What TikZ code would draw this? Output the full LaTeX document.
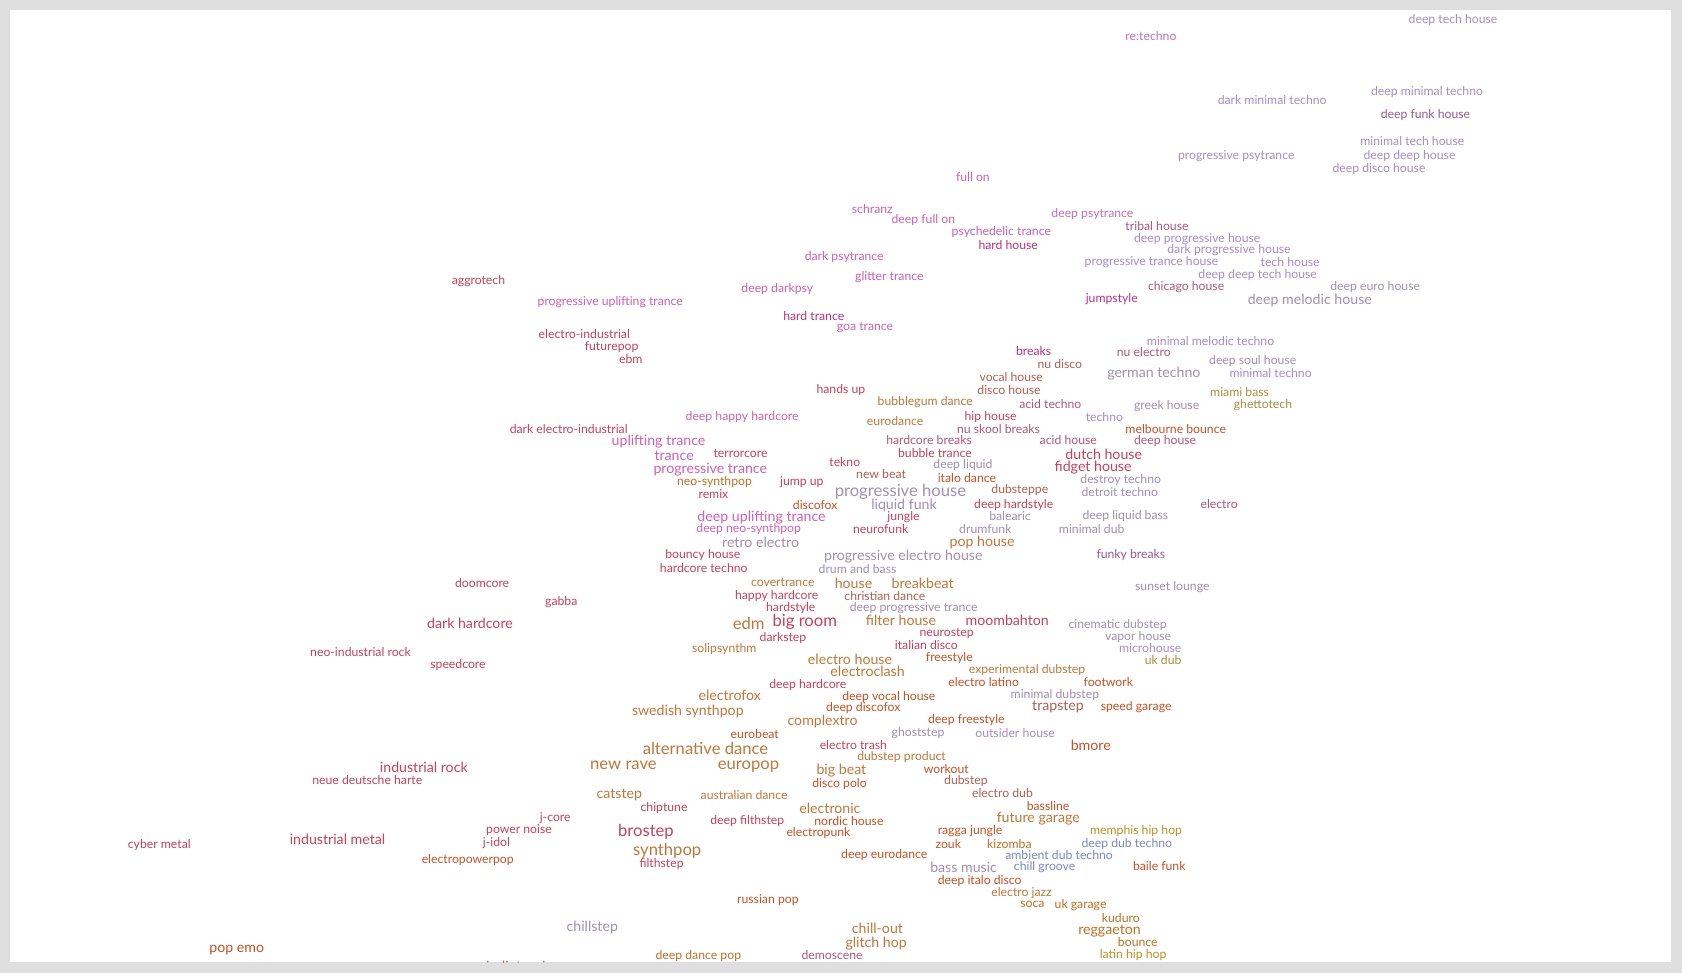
\documentclass[tikz,border=0pt]{standalone}
\usepackage{fontspec}
\setmainfont{Lato}
\definecolor{P}{HTML}{A88CC8}
\definecolor{Mg}{HTML}{D060B0}
\definecolor{Mp}{HTML}{C070C0}
\definecolor{R}{HTML}{C8405A}
\definecolor{O}{HTML}{C07838}
\definecolor{G}{HTML}{A090B0}
\definecolor{Y}{HTML}{A89040}
\definecolor{Bl}{HTML}{7888C8}
\definecolor{Ma}{HTML}{A05890}
\definecolor{Hr}{HTML}{C03080}
\definecolor{Rs}{HTML}{B05878}
\definecolor{Br}{HTML}{B06050}
\definecolor{Or}{HTML}{C85020}
\definecolor{Ok}{HTML}{C07020}
\definecolor{Gd}{HTML}{C09020}
\newcounter{wn}
\newcommand{\gw}[5]{\stepcounter{wn}\node[lab,#5,text=#4] (w\thewn) at (#1,#2+1.5) {#3};}
\begin{document}
\begin{tikzpicture}[x=1pt,y=-1pt,
 lab/.style={anchor=west,inner sep=0pt,font=\fontsize{11.4}{12}\selectfont},
 s/.style={},
 m/.style={font=\fontsize{13.2}{14}\selectfont},
 L/.style={font=\fontsize{15.5}{16}\selectfont}]
\fill[gray!25] (0,0) rectangle (1568,907);
\fill[white] (9,9) rectangle (1558,897);
\begin{scope}
\clip (9,9) rectangle (1558,897);
\gw{1313}{17}{deep tech house}{P}{s}
\gw{1049}{32}{re:techno}{Mp}{s}
\gw{1278}{84}{deep minimal techno}{P}{s}
\gw{1135}{92}{dark minimal techno}{P}{s}
\gw{1287}{106}{deep funk house}{Ma}{s}
\gw{1268}{130}{minimal tech house}{P}{s}
\gw{1098}{144}{progressive psytrance}{P}{s}
\gw{1271}{144}{deep deep house}{P}{s}
\gw{1242}{156}{deep disco house}{G}{s}
\gw{891}{164}{full on}{Mg}{s}
\gw{794}{193}{schranz}{Mg}{s}
\gw{980}{198}{deep psytrance}{Mp}{s}
\gw{831}{204}{deep full on}{Mg}{s}
\gw{1049}{209}{tribal house}{Rs}{s}
\gw{887}{215}{psychedelic trance}{Mg}{s}
\gw{1057}{221}{deep progressive house}{P}{s}
\gw{912}{227}{hard house}{Hr}{s}
\gw{1088}{232}{dark progressive house}{P}{s}
\gw{1011}{243}{progressive trance house}{P}{s}
\gw{1175}{243}{tech house}{P}{s}
\gw{750}{238}{dark psytrance}{Mg}{s}
\gw{1117}{255}{deep deep tech house}{P}{s}
\gw{797}{257}{glitter trance}{Mg}{s}
\gw{1240}{266}{deep euro house}{G}{s}
\gw{421}{261}{aggrotech}{R}{s}
\gw{691}{268}{deep darkpsy}{Mg}{s}
\gw{1070}{266}{chicago house}{Rs}{s}
\gw{1012}{277}{jumpstyle}{Hr}{s}
\gw{501}{280}{progressive uplifting trance}{Mg}{s}
\gw{1163}{279}{deep melodic house}{G}{m}
\gw{730}{293}{hard trance}{Hr}{s}
\gw{780}{304}{goa trance}{Mg}{s}
\gw{502}{310}{electro-industrial}{R}{s}
\gw{545}{322}{futurepop}{R}{s}
\gw{577}{333}{ebm}{R}{s}
\gw{1069}{316}{minimal melodic techno}{P}{s}
\gw{947}{326}{breaks}{Hr}{s}
\gw{1041}{327}{nu electro}{Rs}{s}
\gw{967}{338}{nu disco}{Br}{s}
\gw{1127}{335}{deep soul house}{G}{s}
\gw{1032}{347}{german techno}{G}{m}
\gw{1146}{346}{minimal techno}{P}{s}
\gw{913}{350}{vocal house}{Br}{s}
\gw{761}{362}{hands up}{R}{s}
\gw{911}{362}{disco house}{Br}{s}
\gw{1128}{364}{miami bass}{Y}{s}
\gw{818}{373}{bubblegum dance}{O}{s}
\gw{950}{375}{acid techno}{Rs}{s}
\gw{1057}{377}{greek house}{G}{s}
\gw{1150}{376}{ghettotech}{Y}{s}
\gw{639}{387}{deep happy hardcore}{Mg}{s}
\gw{808}{391}{eurodance}{O}{s}
\gw{899}{387}{hip house}{R}{s}
\gw{1012}{387}{techno}{P}{s}
\gw{892}{398}{nu skool breaks}{Rs}{s}
\gw{1049}{398}{melbourne bounce}{Or}{s}
\gw{475}{398}{dark electro-industrial}{R}{s}
\gw{570}{410}{uplifting trance}{Mg}{m}
\gw{826}{409}{hardcore breaks}{Rs}{s}
\gw{969}{409}{acid house}{Rs}{s}
\gw{1057}{410}{deep house}{Rs}{s}
\gw{837}{421}{bubble trance}{R}{s}
\gw{993}{422}{dutch house}{R}{m}
\gw{610}{423}{trance}{Mg}{m}
\gw{665}{421}{terrorcore}{R}{s}
\gw{773}{429}{tekno}{R}{s}
\gw{870}{432}{deep liquid}{G}{s}
\gw{983}{434}{fidget house}{R}{m}
\gw{609}{436}{progressive trance}{Mg}{m}
\gw{798}{440}{new beat}{Br}{s}
\gw{874}{444}{italo dance}{Or}{s}
\gw{1007}{446}{destroy techno}{G}{s}
\gw{631}{448}{neo-synthpop}{Ok}{s}
\gw{727}{448}{jump up}{R}{s}
\gw{924}{455}{dubsteppe}{Br}{s}
\gw{1008}{457}{detroit techno}{G}{s}
\gw{778}{457}{progressive house}{G}{L}
\gw{651}{459}{remix}{R}{s}
\gw{739}{469}{discofox}{Or}{s}
\gw{812}{470}{liquid funk}{G}{m}
\gw{908}{469}{deep hardstyle}{R}{s}
\gw{1119}{468}{electro}{Rs}{s}
\gw{922}{480}{balearic}{G}{s}
\gw{1009}{480}{deep liquid bass}{G}{s}
\gw{650}{481}{deep uplifting trance}{Mg}{m}
\gw{827}{481}{jungle}{R}{s}
\gw{649}{492}{deep neo-synthpop}{Mg}{s}
\gw{795}{492}{neurofunk}{R}{s}
\gw{894}{492}{drumfunk}{G}{s}
\gw{987}{492}{minimal dub}{G}{s}
\gw{885}{504}{pop house}{O}{m}
\gw{673}{504}{retro electro}{G}{m}
\gw{620}{516}{bouncy house}{R}{s}
\gw{768}{517}{progressive electro house}{G}{m}
\gw{1022}{516}{funky breaks}{Ma}{s}
\gw{615}{528}{hardcore techno}{R}{s}
\gw{763}{529}{drum and bass}{G}{s}
\gw{424}{542}{doomcore}{R}{s}
\gw{700}{541}{covertrance}{O}{s}
\gw{778}{542}{house}{O}{m}
\gw{831}{542}{breakbeat}{O}{m}
\gw{1058}{546}{sunset lounge}{G}{s}
\gw{685}{554}{happy hardcore}{R}{s}
\gw{787}{554}{christian dance}{Br}{s}
\gw{508}{560}{gabba}{R}{s}
\gw{714}{565}{hardstyle}{R}{s}
\gw{792}{565}{deep progressive trance}{G}{s}
\gw{683}{580}{edm}{O}{L}
\gw{720}{578}{big room}{R}{L}
\gw{807}{577}{filter house}{O}{m}
\gw{900}{577}{moombahton}{R}{m}
\gw{398}{580}{dark hardcore}{R}{m}
\gw{996}{581}{cinematic dubstep}{G}{s}
\gw{857}{589}{neurostep}{R}{s}
\gw{1030}{592}{vapor house}{G}{s}
\gw{708}{593}{darkstep}{R}{s}
\gw{834}{600}{italian disco}{R}{s}
\gw{1043}{603}{microhouse}{P}{s}
\gw{289}{606}{neo-industrial rock}{R}{s}
\gw{645}{604}{solipsynthm}{O}{s}
\gw{1067}{614}{uk dub}{Y}{s}
\gw{753}{613}{electro house}{O}{m}
\gw{863}{612}{freestyle}{Or}{s}
\gw{401}{618}{speedcore}{R}{s}
\gw{774}{624}{electroclash}{O}{m}
\gw{903}{623}{experimental dubstep}{O}{s}
\gw{884}{634}{electro latino}{Or}{s}
\gw{1010}{634}{footwork}{Or}{s}
\gw{717}{637}{deep hardcore}{R}{s}
\gw{942}{646}{minimal dubstep}{G}{s}
\gw{651}{647}{electrofox}{O}{m}
\gw{785}{648}{deep vocal house}{Or}{s}
\gw{962}{658}{trapstep}{Br}{m}
\gw{1026}{658}{speed garage}{Or}{s}
\gw{589}{662}{swedish synthpop}{O}{m}
\gw{770}{659}{deep discofox}{Or}{s}
\gw{734}{671}{complextro}{O}{m}
\gw{865}{670}{deep freestyle}{Or}{s}
\gw{831}{682}{ghoststep}{G}{s}
\gw{909}{682}{outsider house}{P}{s}
\gw{681}{683}{eurobeat}{Or}{s}
\gw{998}{693}{bmore}{Or}{m}
\gw{599}{696}{alternative dance}{O}{L}
\gw{764}{693}{electro trash}{R}{s}
\gw{799}{704}{dubstep product}{O}{s}
\gw{550}{712}{new rave}{O}{L}
\gw{669}{713}{europop}{O}{L}
\gw{861}{715}{workout}{Or}{s}
\gw{354}{714}{industrial rock}{R}{m}
\gw{761}{717}{big beat}{O}{m}
\gw{291}{726}{neue deutsche harte}{R}{s}
\gw{757}{729}{disco polo}{Or}{s}
\gw{880}{727}{dubstep}{Br}{s}
\gw{906}{738}{electro dub}{Br}{s}
\gw{556}{740}{catstep}{O}{m}
\gw{653}{740}{australian dance}{O}{s}
\gw{597}{752}{chiptune}{R}{s}
\gw{745}{752}{electronic}{O}{m}
\gw{957}{750}{bassline}{Or}{s}
\gw{503}{761}{j-core}{R}{s}
\gw{662}{764}{deep filthstep}{R}{s}
\gw{759}{764}{nordic house}{Or}{s}
\gw{929}{762}{future garage}{O}{m}
\gw{453}{772}{power noise}{R}{s}
\gw{576}{774}{brostep}{R}{L}
\gw{733}{775}{electropunk}{Or}{s}
\gw{874}{773}{ragga jungle}{Or}{s}
\gw{1016}{773}{memphis hip hop}{Gd}{s}
\gw{270}{781}{industrial metal}{R}{m}
\gw{450}{784}{j-idol}{R}{s}
\gw{872}{785}{zouk}{Or}{s}
\gw{920}{785}{kizomba}{Ok}{s}
\gw{1008}{785}{deep dub techno}{Bl}{s}
\gw{119}{786}{cyber metal}{R}{s}
\gw{590}{792}{synthpop}{O}{L}
\gw{937}{796}{ambient dub techno}{Bl}{s}
\gw{784}{796}{deep eurodance}{Or}{s}
\gw{393}{800}{electropowerpop}{Or}{s}
\gw{596}{804}{filthstep}{R}{s}
\gw{867}{807}{bass music}{G}{m}
\gw{945}{807}{chill groove}{Bl}{s}
\gw{1056}{806}{baile funk}{Or}{s}
\gw{874}{820}{deep italo disco}{Or}{s}
\gw{924}{831}{electro jazz}{O}{s}
\gw{687}{838}{russian pop}{Or}{s}
\gw{951}{842}{soca}{Ok}{s}
\gw{983}{842}{uk garage}{Ok}{s}
\gw{1027}{854}{kuduro}{Ok}{s}
\gw{528}{863}{chillstep}{G}{m}
\gw{794}{864}{chill-out}{O}{m}
\gw{1005}{866}{reggaeton}{Ok}{m}
\gw{788}{878}{glitch hop}{O}{m}
\gw{1042}{877}{bounce}{Ok}{s}
\gw{195}{884}{pop emo}{Or}{m}
\gw{611}{890}{deep dance pop}{Ok}{s}
\gw{747}{889}{demoscene}{Rs}{s}
\gw{1025}{889}{latin hip hop}{Gd}{s}
\gw{453}{899}{indietronica}{O}{m}
\end{scope}
\end{tikzpicture}
\end{document}
